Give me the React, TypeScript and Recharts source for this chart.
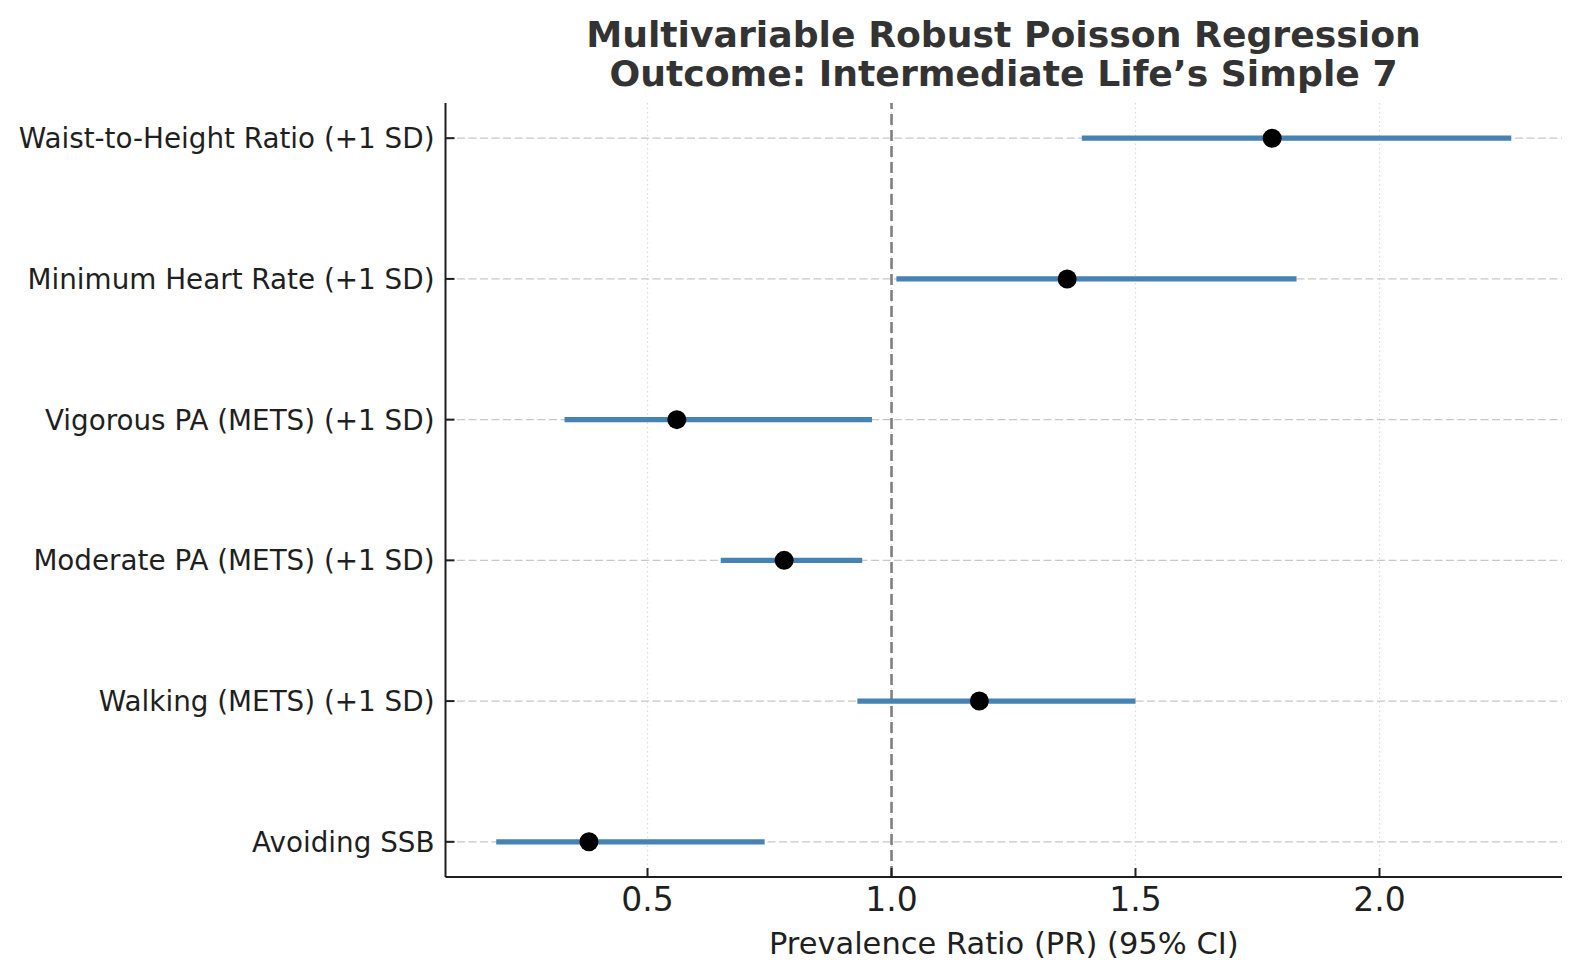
import React from "react";
import {
  ScatterChart,
  Scatter,
  XAxis,
  YAxis,
  CartesianGrid,
  ReferenceLine,
  ErrorBar,
} from "recharts";

// predictors, top to bottom as in the plot
const predictors = [
  "Waist-to-Height Ratio (+1 SD)",
  "Minimum Heart Rate (+1 SD)",
  "Vigorous PA (METS) (+1 SD)",
  "Moderate PA (METS) (+1 SD)",
  "Walking (METS) (+1 SD)",
  "Avoiding SSB",
];
const pr = [1.78, 1.36, 0.56, 0.78, 1.18, 0.38];
const ciLow = [1.39, 1.01, 0.33, 0.65, 0.93, 0.19];
const ciHigh = [2.27, 1.83, 0.96, 0.94, 1.5, 0.74];
const xTicks = [0.5, 1.0, 1.5, 2.0];

const n = predictors.length;
const rowTicks = predictors.map((_, i) => i);
const rowLabels = [...predictors].reverse();

const data = predictors.map((name, i) => ({
  name,
  row: n - 1 - i,
  pr: pr[i],
  err: [pr[i] - ciLow[i], ciHigh[i] - pr[i]],
}));

const FONT = "DejaVu Sans";

const Dot = (p: any) => <circle cx={p.cx} cy={p.cy} r={9.5} fill="#000" />;

export default function App() {
  return (
    <div style={{ position: "absolute", left: 0, top: 0, width: 1580, height: 980, background: "#fff", fontFamily: FONT }}>
      <div
        style={{
          position: "absolute",
          left: 445,
          width: 1117,
          top: 15,
          textAlign: "center",
          fontWeight: "bold",
          fontSize: 36.2,
          lineHeight: "39px",
          color: "#333",
        }}
      >
        Multivariable Robust Poisson Regression
        <br />
        Outcome: Intermediate Life’s Simple 7
      </div>
      <ScatterChart width={1580} height={980} margin={{ top: 103, right: 18, bottom: 0, left: 0 }}>
        <CartesianGrid
          horizontal={false}
          verticalValues={xTicks}
          stroke="#dcdcdc"
          strokeWidth={1.3}
          strokeDasharray="1.5 3"
        />
        <CartesianGrid
          vertical={false}
          horizontalValues={rowTicks}
          stroke="#c8c8c8"
          strokeWidth={1.3}
          strokeDasharray="8 3.5"
        />
        <XAxis
          type="number"
          dataKey="pr"
          domain={[0.086, 2.374]}
          allowDataOverflow
          ticks={xTicks}
          tickFormatter={(v: number) => v.toFixed(1)}
          height={103}
          tickSize={-9}
          tickMargin={20}
          axisLine={{ stroke: "#1f1f1f", strokeWidth: 2 }}
          tickLine={{ stroke: "#1f1f1f", strokeWidth: 2 }}
          tick={{ fontSize: 33, fill: "#1f1f1f", fontFamily: FONT }}
          label={{
            value: "Prevalence Ratio (PR) (95% CI)",
            position: "insideBottom",
            offset: 26,
            fontSize: 30.5,
            fill: "#1f1f1f",
            fontFamily: FONT,
          }}
        />
        <YAxis
          type="number"
          dataKey="row"
          domain={[-0.25, n - 0.75]}
          allowDataOverflow
          ticks={rowTicks}
          tickFormatter={(v: number) => rowLabels[v] ?? ""}
          width={445.5}
          tickSize={-9}
          tickMargin={20}
          axisLine={{ stroke: "#1f1f1f", strokeWidth: 2 }}
          tickLine={{ stroke: "#1f1f1f", strokeWidth: 2 }}
          tick={{ fontSize: 27.8, fill: "#1f1f1f", fontFamily: FONT }}
        />
        <ReferenceLine x={1} stroke="#808080" strokeWidth={2.6} strokeDasharray="11 5" />
        <Scatter data={data} isAnimationActive={false} shape={Dot}>
          <ErrorBar dataKey="err" direction="x" width={0} stroke="#4682b4" strokeWidth={5.2} isAnimationActive={false} />
        </Scatter>
      </ScatterChart>
    </div>
  );
}
